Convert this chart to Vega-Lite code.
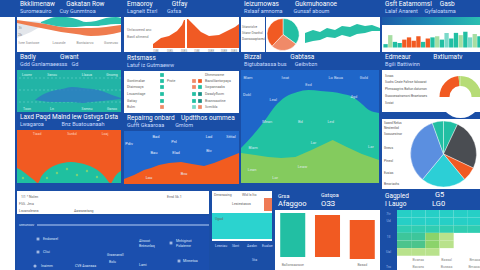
{
"$schema": "https://vega.github.io/schema/vega-lite/v6.json",
"background": "#1a4ea6",
"padding": 0,
"spacing": 1,
"resolve": {"scale": {"theta": "independent"}},
"config": {
 "view": {"stroke": null},
 "axis": {"disable": true},
 "legend": {"disable": true},
 "text": {"font": "Roboto", "fontSize": 3.5, "baseline": "middle"},
 "title": {"anchor": "start", "frame": "group", "font": "Roboto", "fontSize": 6.5, "fontWeight": "normal", "color": "#ffffff", "subtitleFont": "Roboto", "subtitleFontSize": 5.5, "subtitleColor": "#c9dcff", "offset": 3, "subtitlePadding": 1.5, "dx": 3}
},
"hconcat": [
 {"width": 15, "height": 270, "view": {"fill": "#ffffff"}, "data": {"values": [{"s": ""}]}, "mark": "text", "encoding": {"text": {"field": "s"}}},
 {"spacing": 2, "resolve": {"scale": {"theta": "independent"}}, "vconcat": [
  {"spacing": 2, "resolve": {"scale": {"theta": "independent"}}, "hconcat": [
   {"spacing": 1, "vconcat": [
    {"title": {"text": "Bkklimenaw\u00a0\u00a0\u00a0\u00a0\u00a0\u00a0\u00a0Gakatan Row", "subtitle": "Suromeauiro\u00a0\u00a0\u00a0\u00a0\u00a0\u00a0Cuy Gunmtnoa"},
     "width": 104, "height": 35, "view": {"fill": "#ffffff"},
     "encoding": {"x": {"field": "x", "type": "quantitative", "scale": {"domain": [0, 104]}}, "y": {"field": "y", "type": "quantitative", "scale": {"domain": [0, 35]}}},
     "layer": [
      {"data": {"values": [{"x":0,"y":30,"y0":14},{"x":14,"y":31,"y0":20},{"x":28,"y":30,"y0":28}]}, "mark": {"type": "area", "color": "#e3e6eb"}, "encoding": {"y2": {"field": "y0"}}},
      {"data": {"values": [{"x":0,"y":32,"y0":29},{"x":14,"y":30,"y0":26},{"x":29,"y":28,"y0":23},{"x":44,"y":25,"y0":20},{"x":59,"y":24,"y0":18},{"x":74,"y":24,"y0":16},{"x":89,"y":25,"y0":17},{"x":104,"y":27,"y0":20}]}, "mark": {"type": "area", "color": "#ef7c4e", "interpolate": "monotone"}, "encoding": {"y2": {"field": "y0"}}},
      {"data": {"values": [{"x":24,"y":30,"y0":29},{"x":29,"y":32,"y0":28},{"x":39,"y":35,"y0":26},{"x":49,"y":35,"y0":25},{"x":59,"y":33,"y0":25},{"x":69,"y":30,"y0":26},{"x":79,"y":31,"y0":26},{"x":89,"y":34,"y0":27},{"x":99,"y":35,"y0":28},{"x":104,"y":34,"y0":28}]}, "mark": {"type": "area", "color": "#2cc2ae", "interpolate": "monotone"}, "encoding": {"y2": {"field": "y0"}}},
      {"data": {"values": [{"x":12,"y":9,"s":"Ivee Sontowe"},{"x":42,"y":9,"s":"Lzaunde"},{"x":68,"y":9,"s":"Bontaiarvo"},{"x":94,"y":9,"s":"Goneuso"},{"x":3,"y":24,"s":"3t"},{"x":3,"y":17,"s":"2b"}]}, "mark": {"type": "text", "color": "#8a8a8a"}, "encoding": {"text": {"field": "s"}}}
     ]},
    {"title": {"text": "Badly\u00a0\u00a0\u00a0\u00a0\u00a0\u00a0\u00a0\u00a0\u00a0\u00a0\u00a0\u00a0\u00a0\u00a0\u00a0Gwant", "subtitle": "Gdd Gsnlamaeesss\u00a0\u00a0\u00a0Gd"},
     "width": 104, "height": 42, "view": {"fill": "#22b4a6"},
     "encoding": {"x": {"field": "x", "type": "quantitative", "scale": {"domain": [0, 104]}}, "y": {"field": "y", "type": "quantitative", "scale": {"domain": [0, 42]}}},
     "layer": [
      {"data": {"values": [{"y":10},{"y":22},{"y":34}]}, "mark": {"type": "rule", "color": "#7adbd0", "strokeDash": [2, 2], "strokeWidth": 0.5}, "encoding": {"x": null}},
      {"data": {"values": [{"x":18,"y":12,"y0":12},{"x":25,"y":17,"y0":11},{"x":35,"y":21,"y0":10},{"x":45,"y":23,"y0":10},{"x":55,"y":25,"y0":10},{"x":65,"y":24,"y0":9},{"x":75,"y":23,"y0":10},{"x":85,"y":21,"y0":11},{"x":95,"y":17,"y0":12},{"x":104,"y":14,"y0":13}]}, "mark": {"type": "area", "color": "#2d7cc2", "opacity": 0.85, "interpolate": "monotone"}, "encoding": {"y2": {"field": "y0"}}},
      {"data": {"values": [{"x":10,"y":37,"s":"Lcomr"},{"x":35,"y":37,"s":"Ssnou"},{"x":70,"y":37,"s":"Llaaus"},{"x":95,"y":37,"s":"Gnomg"},{"x":10,"y":3,"s":"Toon"},{"x":35,"y":3,"s":"Ln"},{"x":70,"y":3,"s":"Ssmnu"},{"x":95,"y":3,"s":"Ganoo"}]}, "mark": {"type": "text", "color": "#d2f4ef"}, "encoding": {"text": {"field": "s"}}}
     ]},
    {"title": {"text": "Laxd Paqd Malnd lew Gstvgs Dsta", "subtitle": "Lwagaroa\u00a0\u00a0\u00a0\u00a0\u00a0\u00a0\u00a0\u00a0\u00a0\u00a0\u00a0\u00a0\u00a0Bnz Buatouanaah"},
     "width": 104, "height": 53, "view": {"fill": "#f15a22"},
     "encoding": {"x": {"field": "x", "type": "quantitative", "scale": {"domain": [0, 104]}}, "y": {"field": "y", "type": "quantitative", "scale": {"domain": [0, 53]}}},
     "layer": [
      {"data": {"values": [{"g":"a","x":0,"y":15},{"g":"a","x":4,"y":13},{"g":"a","x":8,"y":10},{"g":"a","x":13,"y":6},{"g":"a","x":17,"y":3},{"g":"a","x":21,"y":0},{"g":"b","x":21,"y":0},{"g":"b","x":24,"y":6},{"g":"b","x":28,"y":11},{"g":"b","x":33,"y":15},{"g":"b","x":39,"y":18},{"g":"b","x":46,"y":20},{"g":"b","x":54,"y":21},{"g":"b","x":62,"y":20},{"g":"b","x":70,"y":18},{"g":"b","x":77,"y":15},{"g":"b","x":83,"y":11},{"g":"b","x":88,"y":6},{"g":"b","x":91,"y":2},{"g":"b","x":93,"y":0},{"g":"c","x":94,"y":0},{"g":"c","x":97,"y":5},{"g":"c","x":100,"y":9},{"g":"c","x":104,"y":12}]}, "mark": {"type": "area", "color": "#1fc0a0", "interpolate": "monotone"}, "encoding": {"detail": {"field": "g"}}},
      {"data": {"values": [{"x":40,"y":10},{"x":50,"y":14},{"x":60,"y":8},{"x":70,"y":12},{"x":30,"y":5},{"x":80,"y":6},{"x":6,"y":5}]}, "mark": {"type": "point", "filled": true, "size": 6, "color": "#9bd86a"}},
      {"data": {"values": [{"x":20,"y":49,"s":"Tiaad"},{"x":55,"y":49,"s":"Sunkd"},{"x":88,"y":49,"s":"Loaj"}]}, "mark": {"type": "text", "color": "#ffd2bf"}, "encoding": {"text": {"field": "s"}}}
     ]}
   ]},
   {"spacing": 1, "vconcat": [
    {"title": {"text": "Emaoroy\u00a0\u00a0\u00a0\u00a0\u00a0\u00a0\u00a0\u00a0\u00a0\u00a0\u00a0\u00a0Gtfay", "subtitle": "Lagnelt Etxrl\u00a0\u00a0\u00a0\u00a0\u00a0\u00a0\u00a0Gxfsa"},
     "width": 115, "height": 35, "view": {"fill": "#ffffff"},
     "encoding": {"x": {"field": "x", "type": "quantitative", "scale": {"domain": [0, 115]}}, "y": {"field": "y", "type": "quantitative", "scale": {"domain": [0, 35]}}},
     "layer": [
      {"data": {"values": [{"g":"l","x":29,"y":8},{"g":"l","x":37,"y":14},{"g":"l","x":45,"y":16},{"g":"l","x":53,"y":21},{"g":"l","x":58,"y":27},{"g":"l","x":60,"y":32},{"g":"l","x":61,"y":32},{"g":"r","x":63,"y":33},{"g":"r","x":64,"y":33},{"g":"r","x":70,"y":27},{"g":"r","x":77,"y":20},{"g":"r","x":85,"y":16},{"g":"r","x":95,"y":17},{"g":"r","x":103,"y":21},{"g":"r","x":111,"y":25},{"g":"r","x":115,"y":28}]}, "mark": {"type": "area", "color": "#f05a24"}, "encoding": {"y2": {"datum": 4}, "detail": {"field": "g"}}},
      {"data": {"values": [{"x":3,"y":22,"s":"Unfavoreed anc"},{"x":3,"y":15,"s":"Bastl altmend"}]}, "mark": {"type": "text", "color": "#777777", "align": "left"}, "encoding": {"text": {"field": "s"}}},
      {"data": {"values": [{"x":32,"y":1.5,"s":"ISBI"},{"x":46,"y":1.5,"s":"ISBS"},{"x":60,"y":1.5,"s":"ISB5"},{"x":73,"y":1.5,"s":"ISBI"},{"x":87,"y":1.5,"s":"ISBE"},{"x":100,"y":1.5,"s":"ISBE"},{"x":110,"y":1.5,"s":"ISB5"}]}, "mark": {"type": "text", "color": "#8a8a8a", "fontSize": 3}, "encoding": {"text": {"field": "s"}}}
     ]},
    {"title": {"text": "Rstsmass", "subtitle": "Latuf iz Gutmaeww"},
     "width": 115, "height": 42, "view": {"fill": "#ffffff"},
     "encoding": {"x": {"field": "x", "type": "quantitative", "scale": {"domain": [0, 115]}}, "y": {"field": "y", "type": "quantitative", "scale": {"domain": [0, 42]}}},
     "layer": [
      {"data": {"values": [{"x":38,"y":38,"c":"teal"},{"x":38,"y":32,"c":"teal"},{"x":38,"y":26,"c":"teal"},{"x":38,"y":19,"c":"teal"},{"x":38,"y":12,"c":"teal"},{"x":38,"y":6,"c":"salmon"},{"x":70,"y":32,"c":"salmon"},{"x":70,"y":26,"c":"salmon"},{"x":70,"y":19,"c":"teal"},{"x":70,"y":12,"c":"teal"},{"x":70,"y":6,"c":"lteal"},{"x":76,"y":32,"c":"orange"},{"x":76,"y":26,"c":"teal"},{"x":76,"y":19,"c":"dteal"},{"x":76,"y":12,"c":"dteal"},{"x":76,"y":6,"c":"salmon"}]}, "mark": {"type": "point", "shape": "square", "filled": true, "size": 14, "opacity": 1},
       "encoding": {"color": {"field": "c", "type": "nominal", "scale": {"domain": ["teal","orange","salmon","blue","cyan","dgray","lteal","lgreen","dteal","green","ygreen","c1","c2","c3","c4","lg","wht"], "range": ["#22bfa3","#f15a22","#f08a68","#5b8fe0","#2ccfd6","#4a4d52","#7ad9c9","#a6dea3","#1d8f86","#8bd36a","#b6dc76","#26cfc6","#30cdb2","#3dc69b","#4cc48c","#b9e28c","#ffffff"]}}}},
      {"data": {"values": [{"x":3,"y":32,"s":"Gontimalae"},{"x":3,"y":26,"s":"Dtaimcays"},{"x":3,"y":19,"s":"Lnuamitage"},{"x":3,"y":12,"s":"Gatiay"},{"x":3,"y":6,"s":"Bulm"},{"x":43,"y":32,"s":"Prote"},{"x":81,"y":38,"s":"Dhmmosme"},{"x":81,"y":32,"s":"Bazolilantorpaya"},{"x":81,"y":26,"s":"Swpannaaks"},{"x":81,"y":19,"s":"Dasalyfluvm"},{"x":81,"y":12,"s":"Bvanroaotine"},{"x":81,"y":6,"s":"Svmibla"}]}, "mark": {"type": "text", "color": "#666666", "align": "left"}, "encoding": {"text": {"field": "s"}}}
     ]},
    {"title": {"text": "Repairng onbard\u00a0\u00a0\u00a0\u00a0Updtthos oummea", "subtitle": "Gufft Gkaaroaa\u00a0\u00a0\u00a0\u00a0\u00a0\u00a0\u00a0\u00a0Gmlom"},
     "width": 115, "height": 53, "view": {"fill": "#2167cc"},
     "encoding": {"x": {"field": "x", "type": "quantitative", "scale": {"domain": [0, 115]}}, "y": {"field": "y", "type": "quantitative", "scale": {"domain": [0, 53]}}},
     "layer": [
      {"data": {"values": [{"x":0,"y":5},{"x":10,"y":9},{"x":20,"y":14},{"x":27,"y":16},{"x":35,"y":19},{"x":45,"y":21},{"x":57,"y":22},{"x":68,"y":20},{"x":80,"y":18},{"x":90,"y":21},{"x":100,"y":25},{"x":110,"y":29},{"x":115,"y":31}]}, "mark": {"type": "area", "color": "#f25c1f"}},
      {"data": {"values": [{"x":32,"y":47,"s":"Bad"},{"x":85,"y":47,"s":"Lad"},{"x":107,"y":47,"s":"Stttal"},{"x":5,"y":40,"s":"Pdiv"},{"x":50,"y":42,"s":"Pnl"},{"x":30,"y":31,"s":"Bau"},{"x":52,"y":31,"s":"Elad"},{"x":85,"y":33,"s":"Biv"},{"x":60,"y":10,"s":"Bvu"},{"x":25,"y":6,"s":"Lou"}]}, "mark": {"type": "text", "color": "#e6eeff", "fontSize": 4}, "encoding": {"text": {"field": "s"}}}
     ]}
   ]},
   {"spacing": 1, "resolve": {"scale": {"theta": "independent"}}, "vconcat": [
    {"title": {"text": "Ieizumowas\u00a0\u00a0\u00a0\u00a0\u00a0\u00a0\u00a0\u00a0\u00a0\u00a0Gukmuhoanoe", "subtitle": "Rxlaaf amnoma\u00a0\u00a0\u00a0\u00a0\u00a0\u00a0\u00a0\u00a0Gunsaf aboum"},
     "spacing": 0,
     "hconcat": [
      {"width": 24, "height": 35, "view": {"fill": "#ffffff"},
       "data": {"values": [{"x":1,"y":25,"s":"Stiaroriolve"},{"x":1,"y":19,"s":"Stiaror Onanhol"},{"x":1,"y":13,"s":"Duonsoaaptaveul"}]},
       "mark": {"type": "text", "color": "#666666", "align": "left", "fontSize": 3},
       "encoding": {"x": {"field": "x", "type": "quantitative", "scale": {"domain": [0, 24]}}, "y": {"field": "y", "type": "quantitative", "scale": {"domain": [0, 35]}}, "text": {"field": "s"}}},
      {"width": 34, "height": 35, "view": {"fill": "#ffffff"},
       "data": {"values": [{"c":"teal","v":35,"o":1},{"c":"salmon","v":27,"o":2},{"c":"orange","v":38,"o":3}]},
       "mark": {"type": "arc", "outerRadius": 16, "stroke": "#ffffff", "strokeWidth": 0.5},
       "encoding": {"theta": {"field": "v", "type": "quantitative", "stack": true, "scale": {"domain": [0, 100]}}, "order": {"field": "o"},
        "color": {"field": "c", "type": "nominal", "scale": {"domain": ["teal","orange","salmon","blue","cyan","dgray","lteal","lgreen","dteal","green","ygreen","c1","c2","c3","c4","lg","wht"], "range": ["#22bfa3","#f15a22","#f08a68","#5b8fe0","#2ccfd6","#4a4d52","#7ad9c9","#a6dea3","#1d8f86","#8bd36a","#b6dc76","#26cfc6","#30cdb2","#3dc69b","#4cc48c","#b9e28c","#ffffff"]}}}},
      {"width": 80, "height": 35, "view": {"fill": "#ffffff"},
       "data": {"values": [{"x":63,"y":19,"y0":9},{"x":71,"y":22,"y0":11},{"x":78,"y":20,"y0":12},{"x":85,"y":24,"y0":15},{"x":93,"y":22,"y0":14},{"x":100,"y":26,"y0":17},{"x":108,"y":25,"y0":15},{"x":115,"y":28,"y0":18},{"x":123,"y":26,"y0":19},{"x":130,"y":27,"y0":21},{"x":138,"y":24,"y0":21}]},
       "mark": {"type": "area", "color": "#27c0a6"},
       "encoding": {"x": {"field": "x", "type": "quantitative", "scale": {"domain": [58, 138]}}, "y": {"field": "y", "type": "quantitative", "scale": {"domain": [0, 35]}}, "y2": {"field": "y0"}}}
     ]},
    {"title": {"text": "Bizzal\u00a0\u00a0\u00a0\u00a0\u00a0\u00a0\u00a0\u00a0\u00a0\u00a0\u00a0\u00a0\u00a0\u00a0\u00a0\u00a0\u00a0\u00a0Gabtasa", "subtitle": "Bigtubatassa bus\u00a0\u00a0\u00a0\u00a0\u00a0\u00a0Geibvbzn"},
     "width": 138, "height": 113, "view": {"fill": "#1f66c9"},
     "encoding": {"x": {"field": "x", "type": "quantitative", "scale": {"domain": [0, 137]}}, "y": {"field": "y", "type": "quantitative", "scale": {"domain": [0, 113]}}},
     "layer": [
      {"data": {"values": [{"x":0,"y":35},{"x":12,"y":48},{"x":24,"y":63},{"x":34,"y":77},{"x":44,"y":86},{"x":56,"y":91},{"x":67,"y":93},{"x":79,"y":92},{"x":91,"y":91},{"x":101,"y":89},{"x":111,"y":86},{"x":120,"y":79},{"x":127,"y":73},{"x":137,"y":70}]}, "mark": {"type": "area", "color": "#21c2a2", "interpolate": "monotone"}},
      {"data": {"values": [{"x":0,"y":30},{"x":14,"y":28},{"x":27,"y":26},{"x":40,"y":25},{"x":54,"y":26},{"x":70,"y":33},{"x":91,"y":43},{"x":105,"y":36},{"x":120,"y":29},{"x":137,"y":23}]}, "mark": {"type": "area", "color": "#84cb5e"}},
      {"data": {"values": [{"x":7,"y":105,"s":"Blam"},{"x":44,"y":105,"s":"Iwat"},{"x":94,"y":105,"s":"Lo Baua"},{"x":122,"y":105,"s":"Gold"},{"x":67,"y":98,"s":"Exd"},{"x":6,"y":88,"s":"Dokl"},{"x":32,"y":83,"s":"Leal"},{"x":112,"y":86,"s":"4gd"},{"x":26,"y":61,"s":"Mean"},{"x":59,"y":61,"s":"Bd"},{"x":89,"y":61,"s":"Led"},{"x":72,"y":40,"s":"Lar"},{"x":12,"y":35,"s":"Blam"},{"x":61,"y":16,"s":"Leaw"},{"x":11,"y":13,"s":"Lean"},{"x":129,"y":36,"s":"Lar"},{"x":34,"y":5,"s":"Lor"}]}, "mark": {"type": "text", "color": "#e8f0ff", "fontSize": 4, "opacity": 0.85}, "encoding": {"text": {"field": "s"}}}
     ]}
   ]},
   {"spacing": 1, "resolve": {"scale": {"theta": "independent"}}, "vconcat": [
    {"title": {"text": "Gsft Eatamomsl\u00a0\u00a0\u00a0\u00a0\u00a0Gasb", "subtitle": "Lalaf Anarent\u00a0\u00a0\u00a0\u00a0\u00a0Gyfaloatsma"},
     "spacing": 0,
     "vconcat": [
      {"width": 101, "height": 8, "view": {"fill": "#1b5aa8"}, "data": {"values": [{}]},
       "mark": {"type": "rect", "color": {"gradient": "linear", "x1": 0, "x2": 1, "y1": 0, "y2": 0, "stops": [{"offset": 0, "color": "#1b5aa8"}, {"offset": 0.5, "color": "#1f8fb5"}, {"offset": 1, "color": "#2bc2b0"}]}},
       "encoding": {"x": {"datum": 0, "type": "quantitative", "scale": {"domain": [0, 1]}}, "x2": {"datum": 1}, "y": {"datum": 0, "type": "quantitative", "scale": {"domain": [0, 1]}}, "y2": {"datum": 1}}},
      {"width": 101, "height": 27, "view": {"fill": "#ffffff"},
       "data": {"values": [{"i":1,"v":3,"c":"teal"},{"i":2,"v":11,"c":"lgreen"},{"i":3,"v":5,"c":"teal"},{"i":4,"v":4,"c":"teal"},{"i":5,"v":7,"c":"orange"},{"i":6,"v":9,"c":"orange"},{"i":7,"v":6,"c":"orange"},{"i":8,"v":10,"c":"orange"},{"i":9,"v":5,"c":"teal"},{"i":10,"v":8,"c":"orange"},{"i":11,"v":9,"c":"teal"},{"i":12,"v":10,"c":"lgreen"},{"i":13,"v":7,"c":"teal"},{"i":14,"v":13,"c":"lteal"},{"i":15,"v":8,"c":"teal"},{"i":16,"v":13,"c":"teal"},{"i":17,"v":11,"c":"lgreen"},{"i":18,"v":14,"c":"teal"},{"i":19,"v":9,"c":"lteal"},{"i":20,"v":12,"c":"lgreen"},{"i":21,"v":10,"c":"teal"}]},
       "mark": {"type": "bar"},
       "encoding": {"x": {"field": "i", "type": "ordinal", "scale": {"paddingInner": 0.08, "paddingOuter": 0.3}}, "y": {"field": "v", "type": "quantitative", "scale": {"domain": [-4, 20]}}, "y2": {"datum": 0},
        "color": {"field": "c", "type": "nominal", "scale": {"domain": ["teal","orange","salmon","blue","cyan","dgray","lteal","lgreen","dteal","green","ygreen","c1","c2","c3","c4","lg","wht"], "range": ["#22bfa3","#f15a22","#f08a68","#5b8fe0","#2ccfd6","#4a4d52","#7ad9c9","#a6dea3","#1d8f86","#8bd36a","#b6dc76","#26cfc6","#30cdb2","#3dc69b","#4cc48c","#b9e28c","#ffffff"]}}}}
     ]},
    {"title": {"text": "Edmeaur\u00a0\u00a0\u00a0\u00a0\u00a0\u00a0\u00a0\u00a0\u00a0\u00a0\u00a0\u00a0\u00a0\u00a0Bxtlumatv", "subtitle": "Bgili Battiwinn"},
     "spacing": 0,
     "hconcat": [
      {"width": 56, "height": 42, "view": {"fill": "#ffffff"},
       "data": {"values": [{"x":3,"y":36,"s":"Svcas"},{"x":3,"y":30,"s":"Suchs Ceate Faltrse falcoarat"},{"x":3,"y":23,"s":"Phmsaagrivs Bafiun daturnon"},{"x":3,"y":16,"s":"Guocceaatramoni Bnaetoraes"},{"x":3,"y":9,"s":"Svciat"}]},
       "mark": {"type": "text", "color": "#555555", "align": "left", "fontSize": 3.2},
       "encoding": {"x": {"field": "x", "type": "quantitative", "scale": {"domain": [0, 56]}}, "y": {"field": "y", "type": "quantitative", "scale": {"domain": [0, 42]}}, "text": {"field": "s"}}},
      {"width": 45, "height": 42, "view": {"fill": "#ffffff"},
       "data": {"values": [{"c":"ygreen","v":25,"o":1},{"c":"wht","v":50,"o":2},{"c":"orange","v":23.5,"o":3},{"c":"ygreen","v":1.5,"o":4}]},
       "mark": {"type": "arc", "outerRadius": 21, "innerRadius": 11, "yOffset": 6},
       "encoding": {"theta": {"field": "v", "type": "quantitative", "stack": true, "scale": {"domain": [0, 100]}}, "order": {"field": "o"},
        "color": {"field": "c", "type": "nominal", "scale": {"domain": ["teal","orange","salmon","blue","cyan","dgray","lteal","lgreen","dteal","green","ygreen","c1","c2","c3","c4","lg","wht"], "range": ["#22bfa3","#f15a22","#f08a68","#5b8fe0","#2ccfd6","#4a4d52","#7ad9c9","#a6dea3","#1d8f86","#8bd36a","#b6dc76","#26cfc6","#30cdb2","#3dc69b","#4cc48c","#b9e28c","#ffffff"]}}}}
     ]},
    {"spacing": 0,
     "hconcat": [
      {"width": 22, "height": 70, "view": {"fill": "#ffffff"},
       "data": {"values": [{"x":2,"y":66,"s":"Sasnd Nelus"},{"x":2,"y":61,"s":"Nestentbd"},{"x":2,"y":55,"s":"Soouuestnor"},{"x":2,"y":41,"s":"Gneus"},{"x":2,"y":28,"s":"Ptneol"},{"x":2,"y":16,"s":"Eusias"},{"x":2,"y":5,"s":"Bmoriachs"}]},
       "mark": {"type": "text", "color": "#555555", "align": "left", "fontSize": 3.2},
       "encoding": {"x": {"field": "x", "type": "quantitative", "scale": {"domain": [0, 22]}}, "y": {"field": "y", "type": "quantitative", "scale": {"domain": [0, 70]}}, "text": {"field": "s"}}},
      {"width": 79, "height": 70, "view": {"fill": "#ffffff"},
       "data": {"values": [{"c":"teal","v":7,"o":1},{"c":"dgray","v":25,"o":2},{"c":"orange","v":7,"o":3},{"c":"cyan","v":22,"o":4},{"c":"blue","v":33.5,"o":5},{"c":"teal","v":5.5,"o":6}]},
       "mark": {"type": "arc", "outerRadius": 33, "stroke": "#ffffff", "strokeWidth": 0.4},
       "encoding": {"theta": {"field": "v", "type": "quantitative", "stack": true, "scale": {"domain": [0, 100]}}, "order": {"field": "o"},
        "color": {"field": "c", "type": "nominal", "scale": {"domain": ["teal","orange","salmon","blue","cyan","dgray","lteal","lgreen","dteal","green","ygreen","c1","c2","c3","c4","lg","wht"], "range": ["#22bfa3","#f15a22","#f08a68","#5b8fe0","#2ccfd6","#4a4d52","#7ad9c9","#a6dea3","#1d8f86","#8bd36a","#b6dc76","#26cfc6","#30cdb2","#3dc69b","#4cc48c","#b9e28c","#ffffff"]}}}}
     ]}
   ]}
  ]},
  {"spacing": 2, "hconcat": [
   {"spacing": 2, "vconcat": [
    {"width": 192, "height": 23, "view": {"fill": "#ffffff"},
     "data": {"values": [{"x":4,"y":17,"s":"1|1 * Nolen"},{"x":150,"y":17,"s":"Ernd Sk.1"},{"x":2,"y":10,"s":"FSS. Jma"},{"x":2,"y":3,"s":"Lsvanolesns"},{"x":57,"y":3,"s":"Aasrasstang"}]},
     "mark": {"type": "text", "color": "#666666", "align": "left"},
     "encoding": {"x": {"field": "x", "type": "quantitative", "scale": {"domain": [0, 192]}}, "y": {"field": "y", "type": "quantitative", "scale": {"domain": [0, 23]}}, "text": {"field": "s"}}},
    {"width": 192, "height": 56, "view": {"fill": "#1b4fae"},
     "encoding": {"x": {"field": "x", "type": "quantitative", "scale": {"domain": [0, 192]}}, "y": {"field": "y", "type": "quantitative", "scale": {"domain": [0, 56]}}},
     "layer": [
      {"data": {"values": [{"x":20,"x2":192,"y":47}]}, "mark": {"type": "rule", "color": "#b8d0f5", "strokeWidth": 1}, "encoding": {"x2": {"field": "x2"}}},
      {"data": {"values": [{"x":21,"y":33},{"x":21,"y":20},{"x":154,"y":29},{"x":162,"y":11}]}, "mark": {"type": "point", "shape": "square", "filled": true, "size": 8, "color": "#d8e4f8"}},
      {"data": {"values": [{"x":18,"y":6}]}, "mark": {"type": "point", "shape": "circle", "filled": true, "size": 10, "color": "#d8e4f8"}},
      {"data": {"values": [{"x":2,"y":47,"s":"unnuncov"},{"x":26,"y":33,"s":"Endonwel"},{"x":26,"y":20,"s":"Cliui"},{"x":24,"y":6,"s":"Inaimm"},{"x":58,"y":6,"s":"CVE Aoansaa"},{"x":90,"y":17,"s":"Grasnansll"},{"x":92,"y":10,"s":"Bolu"},{"x":122,"y":31,"s":"Alrocot"},{"x":122,"y":26,"s":"Bnteunlaq"},{"x":159,"y":31,"s":"Mnhiginot"},{"x":159,"y":26,"s":"Polaterne"},{"x":122,"y":7,"s":"Lami"},{"x":166,"y":11,"s":"Minnetoa"}]}, "mark": {"type": "text", "color": "#dbe6fa", "align": "left"}, "encoding": {"text": {"field": "s"}}}
     ]}
   ]},
   {"spacing": 0, "vconcat": [
    {"width": 60, "height": 50, "view": {"fill": "#ffffff"},
     "encoding": {"x": {"field": "x", "type": "quantitative", "scale": {"domain": [0, 60]}}, "y": {"field": "y", "type": "quantitative", "scale": {"domain": [0, 50]}}},
     "layer": [
      {"data": {"values": [{"x":0,"x2":60,"y":2,"y2":28}]}, "mark": {"type": "rect", "color": "#2bd3cf"}, "encoding": {"x2": {"field": "x2"}, "y2": {"field": "y2"}}},
      {"data": {"values": [{"x":52,"x2":60,"y":30,"y2":43}]}, "mark": {"type": "rect", "color": "#ef7a55"}, "encoding": {"x2": {"field": "x2"}, "y2": {"field": "y2"}}},
      {"data": {"values": [{"x":2,"y":46,"s":"Dmsnaaing"},{"x":30,"y":46,"s":"Wld ls Ito"},{"x":20,"y":37,"s":"Lesiestasos"},{"x":3,"y":22,"s":"Ugad"}]}, "mark": {"type": "text", "color": "#666666", "align": "left"}, "encoding": {"text": {"field": "s"}}}
     ]},
    {"width": 60, "height": 29,
     "data": {"values": [{"x":3,"y":24,"s":"Lesniau"},{"x":20,"y":24,"s":"Sbnt"},{"x":35,"y":24,"s":"Aasbn"},{"x":50,"y":24,"s":"Eualoe"},{"x":40,"y":10,"s":"Sta"}]},
     "mark": {"type": "text", "color": "#c9dcff", "align": "left"},
     "encoding": {"x": {"field": "x", "type": "quantitative", "scale": {"domain": [0, 60]}}, "y": {"field": "y", "type": "quantitative", "scale": {"domain": [0, 29]}}, "text": {"field": "s"}}}
   ]},
   {"spacing": 0, "vconcat": [
    {"width": 105, "height": 19,
     "encoding": {"x": {"field": "x", "type": "quantitative", "scale": {"domain": [0, 105]}}, "y": {"field": "y", "type": "quantitative", "scale": {"domain": [0, 19]}}},
     "layer": [
      {"data": {"values": [{"x":3,"y":14,"s":"Grsa"},{"x":46,"y":15,"s":"Gstqoa"}]}, "mark": {"type": "text", "color": "#ffffff", "fontSize": 5.5, "align": "left"}, "encoding": {"text": {"field": "s"}}},
      {"data": {"values": [{"x":3,"y":6,"s":"Afaggoo"},{"x":46,"y":6,"s":"OЗЗ"}]}, "mark": {"type": "text", "color": "#ffffff", "fontSize": 7.5, "align": "left"}, "encoding": {"text": {"field": "s"}}}
     ]},
    {"width": 105, "height": 61, "view": {"fill": "#ffffff"},
     "encoding": {"x": {"field": "k", "type": "nominal", "scale": {"domain": ["a", "b", "c"], "paddingInner": 0.28, "paddingOuter": 0.15}}, "y": {"field": "y", "type": "quantitative", "scale": {"domain": [0, 61]}}},
     "layer": [
      {"data": {"values": [{"k":"a","y":58,"y0":14,"c":"teal"},{"k":"b","y":56,"y0":14,"c":"orange"},{"k":"c","y":51,"y0":12,"c":"orange"}]}, "mark": {"type": "bar"},
       "encoding": {"y2": {"field": "y0"}, "color": {"field": "c", "type": "nominal", "scale": {"domain": ["teal","orange","salmon","blue","cyan","dgray","lteal","lgreen","dteal","green","ygreen","c1","c2","c3","c4","lg","wht"], "range": ["#22bfa3","#f15a22","#f08a68","#5b8fe0","#2ccfd6","#4a4d52","#7ad9c9","#a6dea3","#1d8f86","#8bd36a","#b6dc76","#26cfc6","#30cdb2","#3dc69b","#4cc48c","#b9e28c","#ffffff"]}}}},
      {"data": {"values": [{"k":"a","y":6,"s":"Ballonsaaraoe"},{"k":"c","y":6,"s":"Basad"}]}, "mark": {"type": "text", "color": "#777777"}, "encoding": {"text": {"field": "s"}}}
     ]}
   ]},
   {"spacing": 0, "vconcat": [
    {"width": 100, "height": 19,
     "encoding": {"x": {"field": "x", "type": "quantitative", "scale": {"domain": [0, 100]}}, "y": {"field": "y", "type": "quantitative", "scale": {"domain": [0, 19]}}},
     "layer": [
      {"data": {"values": [{"x":3,"y":14,"s":"Gagpled"},{"x":3,"y":6,"s":"I Laugo"}]}, "mark": {"type": "text", "color": "#ffffff", "fontSize": 6.5, "align": "left"}, "encoding": {"text": {"field": "s"}}},
      {"data": {"values": [{"x":53,"y":15,"s":"G5"},{"x":50,"y":6,"s":"LG0"}]}, "mark": {"type": "text", "color": "#ffffff", "fontSize": 7.5, "align": "left"}, "encoding": {"text": {"field": "s"}}}
     ]},
    {"spacing": 2, "hconcat": [
     {"width": 13, "height": 61,
      "data": {"values": [{"r":0,"s":"7tr"},{"r":1,"s":"Ud"},{"r":3,"s":"1ll"},{"r":5,"s":"Ual"},{"r":7,"s":"Tro"}]},
      "mark": {"type": "text", "color": "#9bb8e8"},
      "encoding": {"y": {"field": "r", "type": "ordinal", "scale": {"domain": [0,1,2,3,4,5,6,7]}}, "text": {"field": "s"}}},
     {"width": 85, "height": 61, "view": {"fill": "#ffffff"},
      "encoding": {"x": {"field": "cx", "type": "ordinal", "scale": {"domain": [0,1,2,3,4,5], "paddingInner": 0, "paddingOuter": 0}}, "y": {"field": "r", "type": "ordinal", "scale": {"domain": [0,1,2,3,4,5,6,7], "paddingInner": 0, "paddingOuter": 0}}},
      "layer": [
       {"data": {"values": [{"cx":0,"r":0,"c":"c1"},{"cx":1,"r":0,"c":"c1"},{"cx":2,"r":0,"c":"c1"},{"cx":3,"r":0,"c":"c1"},{"cx":4,"r":0,"c":"c1"},{"cx":5,"r":0,"c":"c1"},{"cx":0,"r":1,"c":"c1"},{"cx":1,"r":1,"c":"c1"},{"cx":2,"r":1,"c":"c1"},{"cx":3,"r":1,"c":"c1"},{"cx":4,"r":1,"c":"c1"},{"cx":5,"r":1,"c":"c1"},{"cx":0,"r":2,"c":"c2"},{"cx":1,"r":2,"c":"c2"},{"cx":2,"r":2,"c":"c2"},{"cx":3,"r":2,"c":"c2"},{"cx":4,"r":2,"c":"c2"},{"cx":5,"r":2,"c":"c2"},{"cx":0,"r":3,"c":"c3"},{"cx":1,"r":3,"c":"c3"},{"cx":2,"r":3,"c":"green"},{"cx":3,"r":3,"c":"lg"},{"cx":0,"r":4,"c":"c4"},{"cx":1,"r":4,"c":"c4"},{"cx":2,"r":4,"c":"green"},{"cx":3,"r":4,"c":"lg"},{"cx":0,"r":5,"c":"lg"},{"cx":1,"r":5,"c":"lg"},{"cx":2,"r":5,"c":"lg"}]}, "mark": {"type": "rect"},
        "encoding": {"color": {"field": "c", "type": "nominal", "scale": {"domain": ["teal","orange","salmon","blue","cyan","dgray","lteal","lgreen","dteal","green","ygreen","c1","c2","c3","c4","lg","wht"], "range": ["#22bfa3","#f15a22","#f08a68","#5b8fe0","#2ccfd6","#4a4d52","#7ad9c9","#a6dea3","#1d8f86","#8bd36a","#b6dc76","#26cfc6","#30cdb2","#3dc69b","#4cc48c","#b9e28c","#ffffff"]}}}},
       {"data": {"values": [{"cx":1,"r":6,"s":"Bvaeaa"},{"cx":3,"r":6,"s":"Bassal"},{"cx":5,"r":6,"s":"Bmaoa"},{"cx":1,"r":7,"s":"Bavaea"},{"cx":3,"r":7,"s":"Bussaa"},{"cx":5,"r":7,"s":"Bmaoaa"}]}, "mark": {"type": "text", "color": "#888888"}, "encoding": {"text": {"field": "s"}}}
      ]}
    ]}
   ]}
  ]}
 ]}
]
}
